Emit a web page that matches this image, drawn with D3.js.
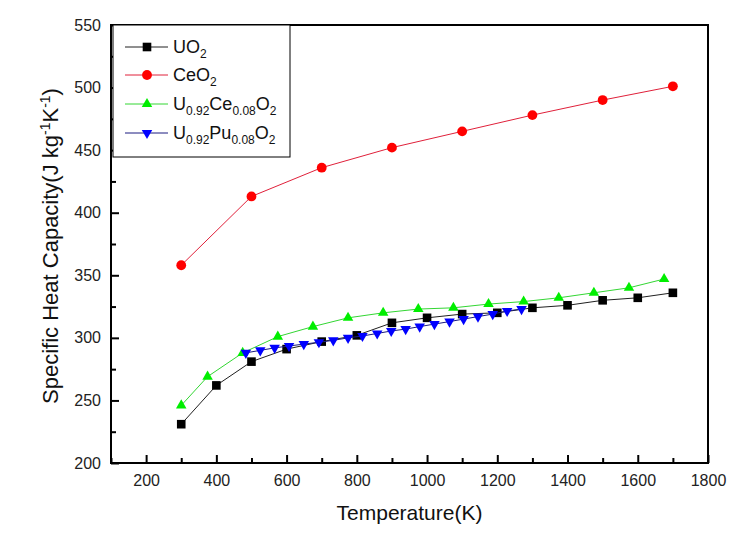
<!DOCTYPE html>
<html>
<head>
<meta charset="utf-8">
<script src="https://cdn.jsdelivr.net/npm/d3@7"></script>
<style>
  html, body { margin: 0; padding: 0; background: #fff; }
  svg { display: block; }
  text { font-family: Arial, "Liberation Sans", sans-serif; }
</style>
</head>
<body>
<svg id="chart" width="751" height="543"></svg>
<script>
// ---- data ----
const uo2T  = [300, 400, 500, 600, 700, 800, 900, 1000, 1100, 1200, 1300, 1400, 1500, 1600, 1700];
const uo2V  = [231, 262, 281, 291, 297, 302, 312, 316, 319, 320, 324, 326, 330, 332, 336];

const ceo2T = [300, 500, 700, 900, 1100, 1300, 1500, 1700];
const ceo2V = [358, 413, 436, 452, 465, 478, 490, 501];

const uceT  = [300, 375, 475, 575, 675, 775, 875, 975, 1075, 1175, 1275, 1375, 1475, 1575, 1675];
const uceV  = [246, 269, 288, 301, 309, 316, 320, 323, 324, 327, 329, 332, 336, 340, 347];

const upuT  = [484, 525, 566, 607, 649, 692, 733, 775, 816, 858, 898, 939, 979, 1021, 1064, 1104, 1145, 1187, 1228, 1269];
const upuV  = [288, 290, 292, 293.5, 295, 296.5, 298, 300, 301.5, 303.5, 305.5, 307, 309, 311, 313, 315, 317, 319, 321.5, 323];

const xMajorTicks = [200, 400, 600, 800, 1000, 1200, 1400, 1600, 1800];
const xMinorTicks = [100, 300, 500, 700, 900, 1100, 1300, 1500, 1700];
const yMajorTicks = [200, 250, 300, 350, 400, 450, 500, 550];
const yMinorTicks = [225, 275, 325, 375, 425, 475, 525];

const seriesNames = [
  [["U", 0], ["O", 0], ["2", 1]],
  [["Ce", 0], ["O", 0], ["2", 1]],
  [["U", 0], ["0.92", 1], ["Ce", 0], ["0.08", 1], ["O", 0], ["2", 1]],
  [["U", 0], ["0.92", 1], ["Pu", 0], ["0.08", 1], ["O", 0], ["2", 1]]
];

// ---- layout ----
const svg = d3.select("#chart");
const L = 111, R = 708, T = 25, B = 463;

const x = d3.scaleLinear().domain([100, 1800]).range([L, R]);
const y = d3.scaleLinear().domain([200, 550]).range([B, T]);

const series = [
  { t: uo2T,  v: uo2V,  line: "#202020", fill: "#000000", shape: "square" },
  { t: ceo2T, v: ceo2V, line: "#e0203a", fill: "#ff0000", shape: "circle" },
  { t: uceT,  v: uceV,  line: "#33d633", fill: "#00ee00", shape: "up" },
  { t: upuT,  v: upuV,  line: "#1a1a80", fill: "#0000ff", shape: "down" }
];

function drawMarker(g, shape, cx, cy, fill) {
  if (shape === "square") {
    g.append("rect").attr("x", cx - 4.3).attr("y", cy - 4.3)
      .attr("width", 8.6).attr("height", 8.6).attr("fill", fill);
  } else if (shape === "circle") {
    g.append("circle").attr("cx", cx).attr("cy", cy).attr("r", 4.9).attr("fill", fill);
  } else {
    const rot = shape === "down" ? 180 : 0;
    g.append("path")
      .attr("d", d3.symbol(d3.symbolTriangle, 48)())
      .attr("transform", `translate(${cx},${cy}) rotate(${rot})`)
      .attr("fill", fill);
  }
}

// ---- axes ----
const axisFont = 16;
const gx = svg.append("g").attr("transform", `translate(0,${B})`);
gx.call(d3.axisBottom(x).tickValues(xMajorTicks).tickSize(-8).tickPadding(12).tickFormat(d3.format("d")));
gx.append("g").call(d3.axisBottom(x).tickValues(xMinorTicks).tickSize(-5).tickFormat(""));

const gy = svg.append("g").attr("transform", `translate(${L},0)`);
gy.call(d3.axisLeft(y).tickValues(yMajorTicks).tickSize(-8).tickPadding(10).tickFormat(d3.format("d")));
gy.append("g").call(d3.axisLeft(y).tickValues(yMinorTicks).tickSize(-5).tickFormat(""));

svg.selectAll(".domain").remove();
svg.selectAll(".tick line").attr("stroke", "#000").attr("stroke-width", 2);
svg.selectAll(".tick text").attr("fill", "#222").style("font-size", axisFont + "px")
  .style("font-family", "Arial, 'Liberation Sans', sans-serif");

// frame
svg.append("rect").attr("x", L).attr("y", T).attr("width", R - L).attr("height", B - T)
  .attr("fill", "none").attr("stroke", "#000").attr("stroke-width", 2);

// ---- series ----
const lineGen = d3.line().x(d => x(d[0])).y(d => y(d[1]));
series.forEach(s => {
  const pts = s.t.map((t, i) => [t, s.v[i]]);
  const g = svg.append("g");
  g.append("path").datum(pts).attr("d", lineGen)
    .attr("fill", "none").attr("stroke", s.line).attr("stroke-width", 1);
  pts.forEach(p => drawMarker(g, s.shape, x(p[0]), y(p[1]), s.fill));
});

// ---- axis titles ----
svg.append("text").attr("x", (L + R) / 2).attr("y", 520)
  .attr("text-anchor", "middle").style("font-size", "21px").attr("fill", "#111")
  .text("Temperature(K)");

const yt = svg.append("text").attr("transform", `translate(58,246) rotate(-90)`)
  .attr("text-anchor", "middle").style("font-size", "22px").attr("fill", "#111");
yt.append("tspan").text("Specific Heat Capacity(J kg");
yt.append("tspan").attr("dy", -8).style("font-size", "14px").text("-1");
yt.append("tspan").attr("dy", 8).text("K");
yt.append("tspan").attr("dy", -8).style("font-size", "14px").text("-1");
yt.append("tspan").attr("dy", 8).text(")");

// ---- legend ----
const lg = svg.append("g");
lg.append("rect").attr("x", 113).attr("y", 25).attr("width", 177).attr("height", 132)
  .attr("fill", "#fff").attr("stroke", "#000").attr("stroke-width", 1);
const rowY = [47, 75, 104, 133];
series.forEach((s, i) => {
  const cy = rowY[i];
  lg.append("line").attr("x1", 125).attr("x2", 168).attr("y1", cy).attr("y2", cy)
    .attr("stroke", s.line).attr("stroke-width", 1);
  drawMarker(lg, s.shape, 147, cy, s.fill);
  const tx = lg.append("text").attr("x", 173).attr("y", cy + 5.5)
    .style("font-size", "18px").attr("fill", "#111");
  let sub = false;
  seriesNames[i].forEach(([str, isSub]) => {
    const ts = tx.append("tspan").text(str);
    if (isSub && !sub) { ts.attr("dy", 5).style("font-size", "12px"); sub = true; }
    else if (isSub && sub) { ts.style("font-size", "12px"); }
    else if (!isSub && sub) { ts.attr("dy", -5); sub = false; }
  });
});
</script>
</body>
</html>
